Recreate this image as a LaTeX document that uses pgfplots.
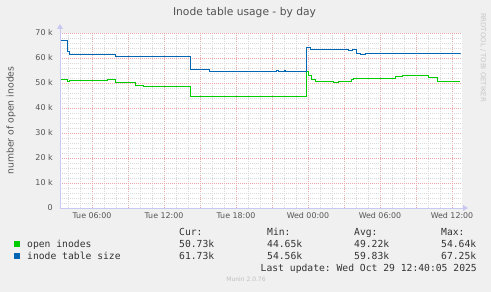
\documentclass[border=0pt]{standalone}
\usepackage{pgfplots}
\pgfplotsset{compat=1.18}
\usepackage{fontspec}
\setmainfont{DejaVu Sans}
\setmonofont{DejaVu Sans Mono}
\definecolor{bg}{HTML}{F0F0F0}
\definecolor{mgrid}{HTML}{EBA8A8}
\definecolor{ngrid}{HTML}{DADADA}
\definecolor{axcol}{HTML}{C8C8F0}
\definecolor{lblcol}{HTML}{555555}
\definecolor{txtcol}{HTML}{333333}
\definecolor{munblue}{HTML}{0066B3}
\definecolor{mungreen}{HTML}{00CC00}
\begin{document}
\begin{tikzpicture}[x=1pt,y=1pt]
\fill[bg] (0,0) rectangle (491,292);
\begin{axis}[
  at={(60pt,84pt)}, anchor=south west,
  scale only axis, width=402pt, height=175pt,
  xmin=3.3333, xmax=36.8333, ymin=0, ymax=70,
  axis background/.style={fill=white},
  axis line style={draw=none},
  major tick length=0pt, minor tick length=0pt,
  xtick={6,9,...,36},
  xticklabels={Tue 06:00,,Tue 12:00,,Tue 18:00,,Wed 00:00,,Wed 06:00,,Wed 12:00},
  minor xtick={4,5,7,8,10,11,13,14,16,17,19,20,22,23,25,26,28,29,31,32,34,35},
  ytick={0,10,...,70},
  yticklabels={0,10 k,20 k,30 k,40 k,50 k,60 k,70 k},
  minor ytick={2,4,6,8,12,14,16,18,22,24,26,28,32,34,36,38,42,44,46,48,52,54,56,58,62,64,66,68},
  grid=both,
  major grid style={mgrid, dash pattern=on 1pt off 1pt, line width=0.6pt},
  minor grid style={ngrid, dash pattern=on 1pt off 1pt, line width=0.5pt},
  xticklabel style={font=\fontsize{7.9}{9}\selectfont, text=lblcol, inner sep=0pt, anchor=base, yshift=-11pt},
  yticklabel style={font=\fontsize{8}{9}\selectfont, text=lblcol, inner sep=0pt, anchor=base east, xshift=-7pt, yshift=-3pt},
  clip=false,
]
\addplot[const plot, mungreen, line width=0.9pt] coordinates {
(3.42,51.5) (3.94,50.7) (4.14,51.1) (7.25,51.6) (7.92,50.4) (9.58,49.2) (10.25,48.7) (14.22,44.65) (23.83,54.64) (24.0,53.2) (24.25,51.6) (24.58,50.8) (26.08,50.4) (26.5,50.8) (27.6,51.6) (27.75,52.0) (28.5,51.7) (28.8,52.0) (29.2,51.8) (29.5,52.0) (31.25,52.5) (31.9,53.2) (34.0,52.4) (34.75,50.73) (36.67,50.73)
};
\addplot[const plot, munblue, line width=0.9pt] coordinates {
(3.42,67.0) (3.94,62.5) (4.14,61.6) (7.08,61.3) (7.25,61.6) (7.92,60.8) (14.22,55.6) (15.75,54.56) (21.4,54.9) (21.55,54.56) (22.0,54.9) (22.15,54.56) (23.83,64.3) (24.17,63.5) (27.33,63.1) (27.67,63.6) (28.0,61.7) (28.4,61.4) (28.75,61.7) (36.67,61.73)
};
\end{axis}
% axis lines with arrows
\draw[axcol, line width=0.8pt] (60,84) -- (463,84);
\fill[axcol] (463,81) -- (468,84) -- (463,87) -- cycle;
\draw[axcol, line width=0.8pt] (60,84) -- (60,263);
\fill[axcol] (57,263) -- (60,268) -- (63,263) -- cycle;
% title
\node[anchor=base, text=txtcol!85, font=\fontsize{10.7}{12}\selectfont, inner sep=0pt] at (244.5,276) {Inode table usage - by day};
% y label
\node[rotate=90, text=lblcol, font=\fontsize{9.3}{11}\selectfont, inner sep=0pt] at (11,171.5) {number of open inodes};
% rrdtool
\node[rotate=-90, text=black!22, font=\fontsize{6.9}{8}\selectfont, inner sep=0pt] at (483,234.5) {RRDTOOL / TOBI OETIKER};
% legend
\begin{scope}[every node/.style={anchor=base west, inner sep=0pt, text=txtcol, font=\ttfamily\fontsize{9.7}{11}\selectfont}]
\node at (179,56.7) {Cur:};
\node at (267,56.7) {Min:};
\node at (354,56.7) {Avg:};
\node at (441,56.7) {Max:};
\fill[mungreen] (13.5,44.5) rectangle (19.5,50.5);
\node at (27,44.8) {open inodes};
\node at (179,44.8) {50.73k};
\node at (267,44.8) {44.65k};
\node at (354,44.8) {49.22k};
\node at (441,44.8) {54.64k};
\fill[munblue] (13.5,32.5) rectangle (19.5,38.5);
\node at (27,32.8) {inode table size};
\node at (179,32.8) {61.73k};
\node at (267,32.8) {54.56k};
\node at (354,32.8) {59.83k};
\node at (441,32.8) {67.25k};
\node[anchor=base east] at (477,20.5) {Last update: Wed Oct 29 12:40:05 2025};
\end{scope}
\node[anchor=base, inner sep=0pt, text=black!25, font=\fontsize{6}{7}\selectfont] at (246,10.5) {Munin 2.0.76};
\end{tikzpicture}
\end{document}
